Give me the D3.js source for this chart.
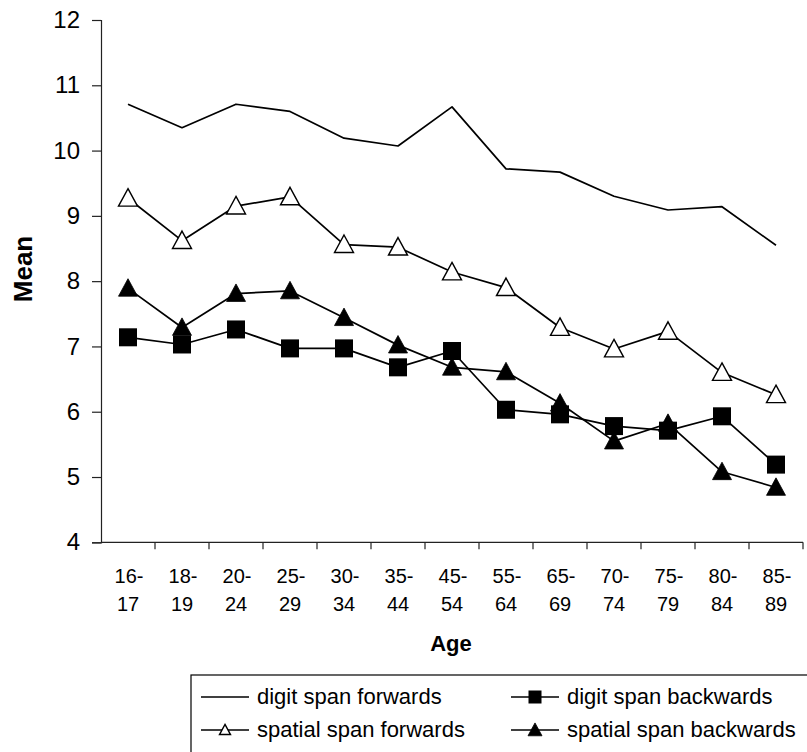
<!DOCTYPE html>
<html>
<head>
<meta charset="utf-8">
<script src="https://cdn.jsdelivr.net/npm/d3@7"></script>
<style>
  html, body { margin: 0; padding: 0; background: #fff; }
  svg { display: block; font-family: "Liberation Sans", Arial, sans-serif; }
</style>
</head>
<body>
<svg id="chart" width="807" height="752"></svg>
<script>
const categories = ["16-17","18-19","20-24","25-29","30-34","35-44","45-54","55-64","65-69","70-74","75-79","80-84","85-89"];
const digitForwards   = [10.71, 10.35, 10.71, 10.60, 10.19, 10.07, 10.67, 9.72, 9.67, 9.30, 9.09, 9.14, 8.55];
const spatialForwards = [9.27, 8.62, 9.15, 9.29, 8.56, 8.52, 8.14, 7.90, 7.29, 6.96, 7.23, 6.60, 6.26];
const digitBackwards  = [7.14, 7.03, 7.26, 6.97, 6.97, 6.68, 6.93, 6.03, 5.96, 5.78, 5.71, 5.93, 5.19];
const spatialBackwards= [7.89, 7.29, 7.81, 7.85, 7.44, 7.02, 6.68, 6.61, 6.13, 5.55, 5.82, 5.08, 4.84];
const yTicks = [4,5,6,7,8,9,10,11,12];
const seriesNames = ["digit span forwards","digit span backwards","spatial span forwards","spatial span backwards"];

const series = [
  {name: seriesNames[0], values: digitForwards, marker: "none"},
  {name: seriesNames[2], values: spatialForwards, marker: "openTri"},
  {name: seriesNames[3], values: spatialBackwards, marker: "filledTri"},
  {name: seriesNames[1], values: digitBackwards, marker: "square"}
];

const svg = d3.select("#chart");
const x = d3.scaleBand().domain(categories).range([101, 803]).paddingInner(0).paddingOuter(0);
const y = d3.scaleLinear().domain([4, 12]).range([542.3, 20]);
const cx = c => x(c) + x.bandwidth() / 2;

// Y axis
const yAxis = d3.axisLeft(y).tickValues(yTicks).tickSize(9).tickPadding(12).tickFormat(d3.format("d"));
const gy = svg.append("g").attr("transform", "translate(101,0)").call(yAxis);
gy.select(".domain").attr("stroke", "#222").attr("stroke-width", 1.2);
gy.selectAll(".tick line").attr("stroke", "#222").attr("stroke-width", 1.2);
gy.selectAll(".tick text").attr("font-size", 24).attr("fill", "#000")
  .attr("font-family", "'Liberation Sans', Arial, sans-serif");

// X axis (ticks at category boundaries)
const gx = svg.append("g");
gx.append("line").attr("x1", 101).attr("x2", 803).attr("y1", y(4)).attr("y2", y(4))
  .attr("stroke", "#222").attr("stroke-width", 1.2);
const bounds = categories.map(c => x(c)).concat([x.range()[1]]);
gx.selectAll("line.tk").data(bounds.slice(1)).enter().append("line").attr("class", "tk")
  .attr("x1", d => d).attr("x2", d => d).attr("y1", y(4)).attr("y2", y(4) + 7)
  .attr("stroke", "#222").attr("stroke-width", 1.2);
const lbl = gx.selectAll("text.xl").data(categories).enter().append("text").attr("class", "xl")
  .attr("font-size", 20).attr("text-anchor", "middle").attr("fill", "#000");
lbl.append("tspan").attr("x", d => cx(d) + 1).attr("y", 583).text(d => d.split("-")[0] + "-");
lbl.append("tspan").attr("x", d => cx(d)).attr("y", 611).text(d => d.split("-")[1]);

// Axis titles
svg.append("text").attr("x", 451).attr("y", 651).attr("text-anchor", "middle")
  .attr("font-size", 22).attr("font-weight", "bold").text("Age");
svg.append("text").attr("transform", "translate(32,269) rotate(-90)").attr("text-anchor", "middle")
  .attr("font-size", 26).attr("font-weight", "bold").text("Mean");

// Lines
const line = d3.line().x((d, i) => cx(categories[i])).y(d => y(d));
svg.selectAll("path.series").data(series).enter().append("path").attr("class", "series")
  .attr("d", s => line(s.values)).attr("fill", "none").attr("stroke", "#000")
  .attr("stroke-width", 1.7).attr("stroke-linejoin", "round");

// Markers
function drawMarker(g, type, size) {
  if (type === "square") {
    g.append("rect").attr("x", -size / 2).attr("y", -size / 2).attr("width", size).attr("height", size)
      .attr("fill", "#000");
  } else if (type === "filledTri" || type === "openTri") {
    const h = size * 0.92, w = size;
    g.append("path").attr("d", `M0,${-h * 0.55}L${w / 2},${h * 0.45}L${-w / 2},${h * 0.45}Z`)
      .attr("fill", type === "filledTri" ? "#000" : "#fff")
      .attr("stroke", "#000").attr("stroke-width", type === "openTri" ? 1.4 : 0.8);
  }
}
series.forEach(s => {
  if (s.marker === "none") return;
  s.values.forEach((v, i) => {
    const g = svg.append("g").attr("transform", `translate(${cx(categories[i])},${y(v)})`);
    drawMarker(g, s.marker, s.marker === "square" ? 18 : 19);
  });
});

// Legend
const lg = svg.append("g");
lg.append("rect").attr("x", 191).attr("y", 675).attr("width", 640).attr("height", 100)
  .attr("fill", "none").attr("stroke", "#000").attr("stroke-width", 1.2);
const legendItems = [
  {name: seriesNames[0], marker: "none", x: 201, y: 697},
  {name: seriesNames[1], marker: "square", x: 511, y: 697},
  {name: seriesNames[2], marker: "openTri", x: 201, y: 730},
  {name: seriesNames[3], marker: "filledTri", x: 511, y: 730}
];
legendItems.forEach(it => {
  lg.append("line").attr("x1", it.x).attr("x2", it.x + 48).attr("y1", it.y).attr("y2", it.y)
    .attr("stroke", "#000").attr("stroke-width", 1.3);
  const g = lg.append("g").attr("transform", `translate(${it.x + 24},${it.y})`);
  drawMarker(g, it.marker, it.marker === "square" ? 13 : (it.marker === "openTri" ? 11 : 14));
  lg.append("text").attr("x", it.x + 56).attr("y", it.y + 7).attr("font-size", 22)
    .attr("fill", "#000").text(it.name);
});
</script>
</body>
</html>
